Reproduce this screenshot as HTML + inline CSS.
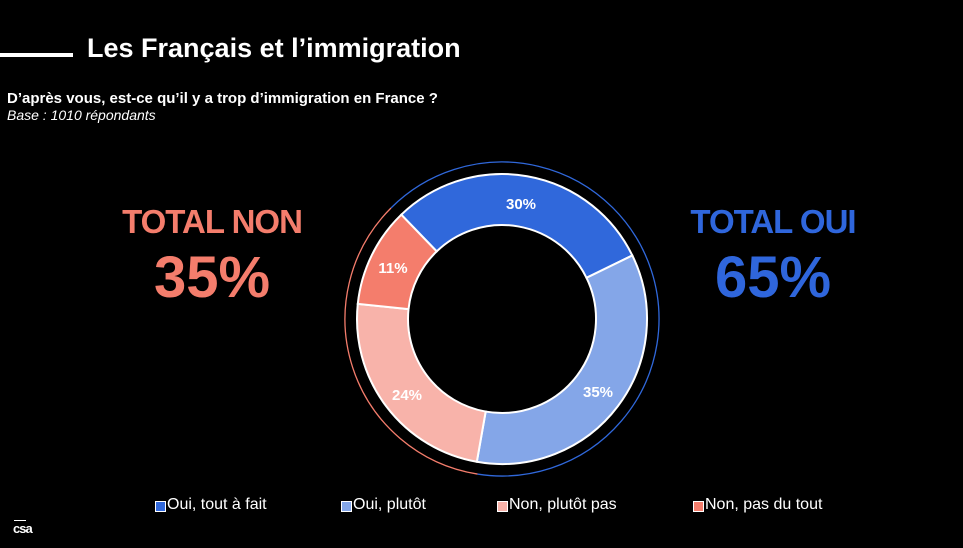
<!DOCTYPE html>
<html><head><meta charset="utf-8"><style>
body{margin:0;width:963px;height:548px;background:#000;overflow:hidden;font-family:"Liberation Sans",sans-serif;color:#fff;position:relative}
.a{position:absolute;white-space:nowrap}
</style></head><body>
<div class="a" style="left:0;top:53px;width:73px;height:4px;background:#fff"></div>
<div class="a" style="left:87px;top:33px;font-size:27px;font-weight:bold">Les Français et l’immigration</div>
<div class="a" style="left:7px;top:90px;font-size:15px;font-weight:bold">D’après vous, est-ce qu’il y a trop d’immigration en France ?</div>
<div class="a" style="left:7px;top:107px;font-size:14px;font-style:italic">Base : 1010 répondants</div>
<div class="a" style="left:112px;top:203px;width:200px;text-align:center;font-size:33px;letter-spacing:-1px;font-weight:bold;color:#f47d6c">TOTAL NON</div>
<div class="a" style="left:112px;top:244px;width:200px;text-align:center;font-size:58px;font-weight:bold;color:#f47d6c">35%</div>
<div class="a" style="left:673px;top:203px;width:200px;text-align:center;font-size:33px;letter-spacing:-1px;font-weight:bold;color:#2f66dc">TOTAL OUI</div>
<div class="a" style="left:673px;top:244px;width:200px;text-align:center;font-size:58px;font-weight:bold;color:#2f66dc">65%</div>
<svg class="a" style="left:0;top:0" width="963" height="548" id="s"></svg>
<script>
var cx=502,cy=319,R=145,r=94;
function pt(a,rad){a=(a-90)*Math.PI/180;return [cx+rad*Math.cos(a),cy+rad*Math.sin(a)];}
function seg(a0,a1,c){var p=pt(a0,R),q=pt(a1,R),s=pt(a1,r),t=pt(a0,r),l=(a1-a0)>180?1:0;
return '<path d="M'+p+' A'+R+' '+R+' 0 '+l+' 1 '+q+' L'+s+' A'+r+' '+r+' 0 '+l+' 0 '+t+'Z" fill="'+c+'" stroke="#fff" stroke-width="2"/>';}
function arc(a0,a1,rad,c){var p=pt(a0,rad),q=pt(a1,rad),l=(a1-a0)>180?1:0;return '<path d="M'+p+' A'+rad+' '+rad+' 0 '+l+' 1 '+q+'" fill="none" stroke="'+c+'" stroke-width="1.3"/>';}
var h='';
h+=seg(-44,64,'#3068db');h+=seg(64,190,'#84a6e8');h+=seg(190,276,'#f8b3aa');h+=seg(276,316,'#f47d6c');
h+=arc(-45,189,157,'#3068db');h+=arc(189,315,157,'#f47d6c');
var L=[[521,209,'30%'],[598,397,'35%'],[407,400,'24%'],[393,273,'11%']];
L.forEach(function(x){h+='<text x="'+x[0]+'" y="'+x[1]+'" text-anchor="middle" font-family="Liberation Sans" font-weight="bold" font-size="15" fill="#fff">'+x[2]+'</text>';});
document.getElementById('s').innerHTML=h;
</script>
<div class="a" style="left:155px;top:501px;width:9px;height:9px;background:#3068db;border:1px solid #fff"></div>
<div class="a" style="left:167px;top:496px;font-size:16px">Oui, tout à fait</div>
<div class="a" style="left:341px;top:501px;width:9px;height:9px;background:#84a6e8;border:1px solid #fff"></div>
<div class="a" style="left:353px;top:496px;font-size:16px">Oui, plutôt</div>
<div class="a" style="left:497px;top:501px;width:9px;height:9px;background:#f8b3aa;border:1px solid #fff"></div>
<div class="a" style="left:509px;top:496px;font-size:16px">Non, plutôt pas</div>
<div class="a" style="left:693px;top:501px;width:9px;height:9px;background:#f47d6c;border:1px solid #fff"></div>
<div class="a" style="left:705px;top:496px;font-size:16px">Non, pas du tout</div>
<div class="a" style="left:14px;top:520px;width:12px;height:1px;background:#fff"></div>
<div class="a" style="left:13px;top:521px;font-size:13px;font-weight:bold;letter-spacing:-1px">csa</div>
</body></html>
